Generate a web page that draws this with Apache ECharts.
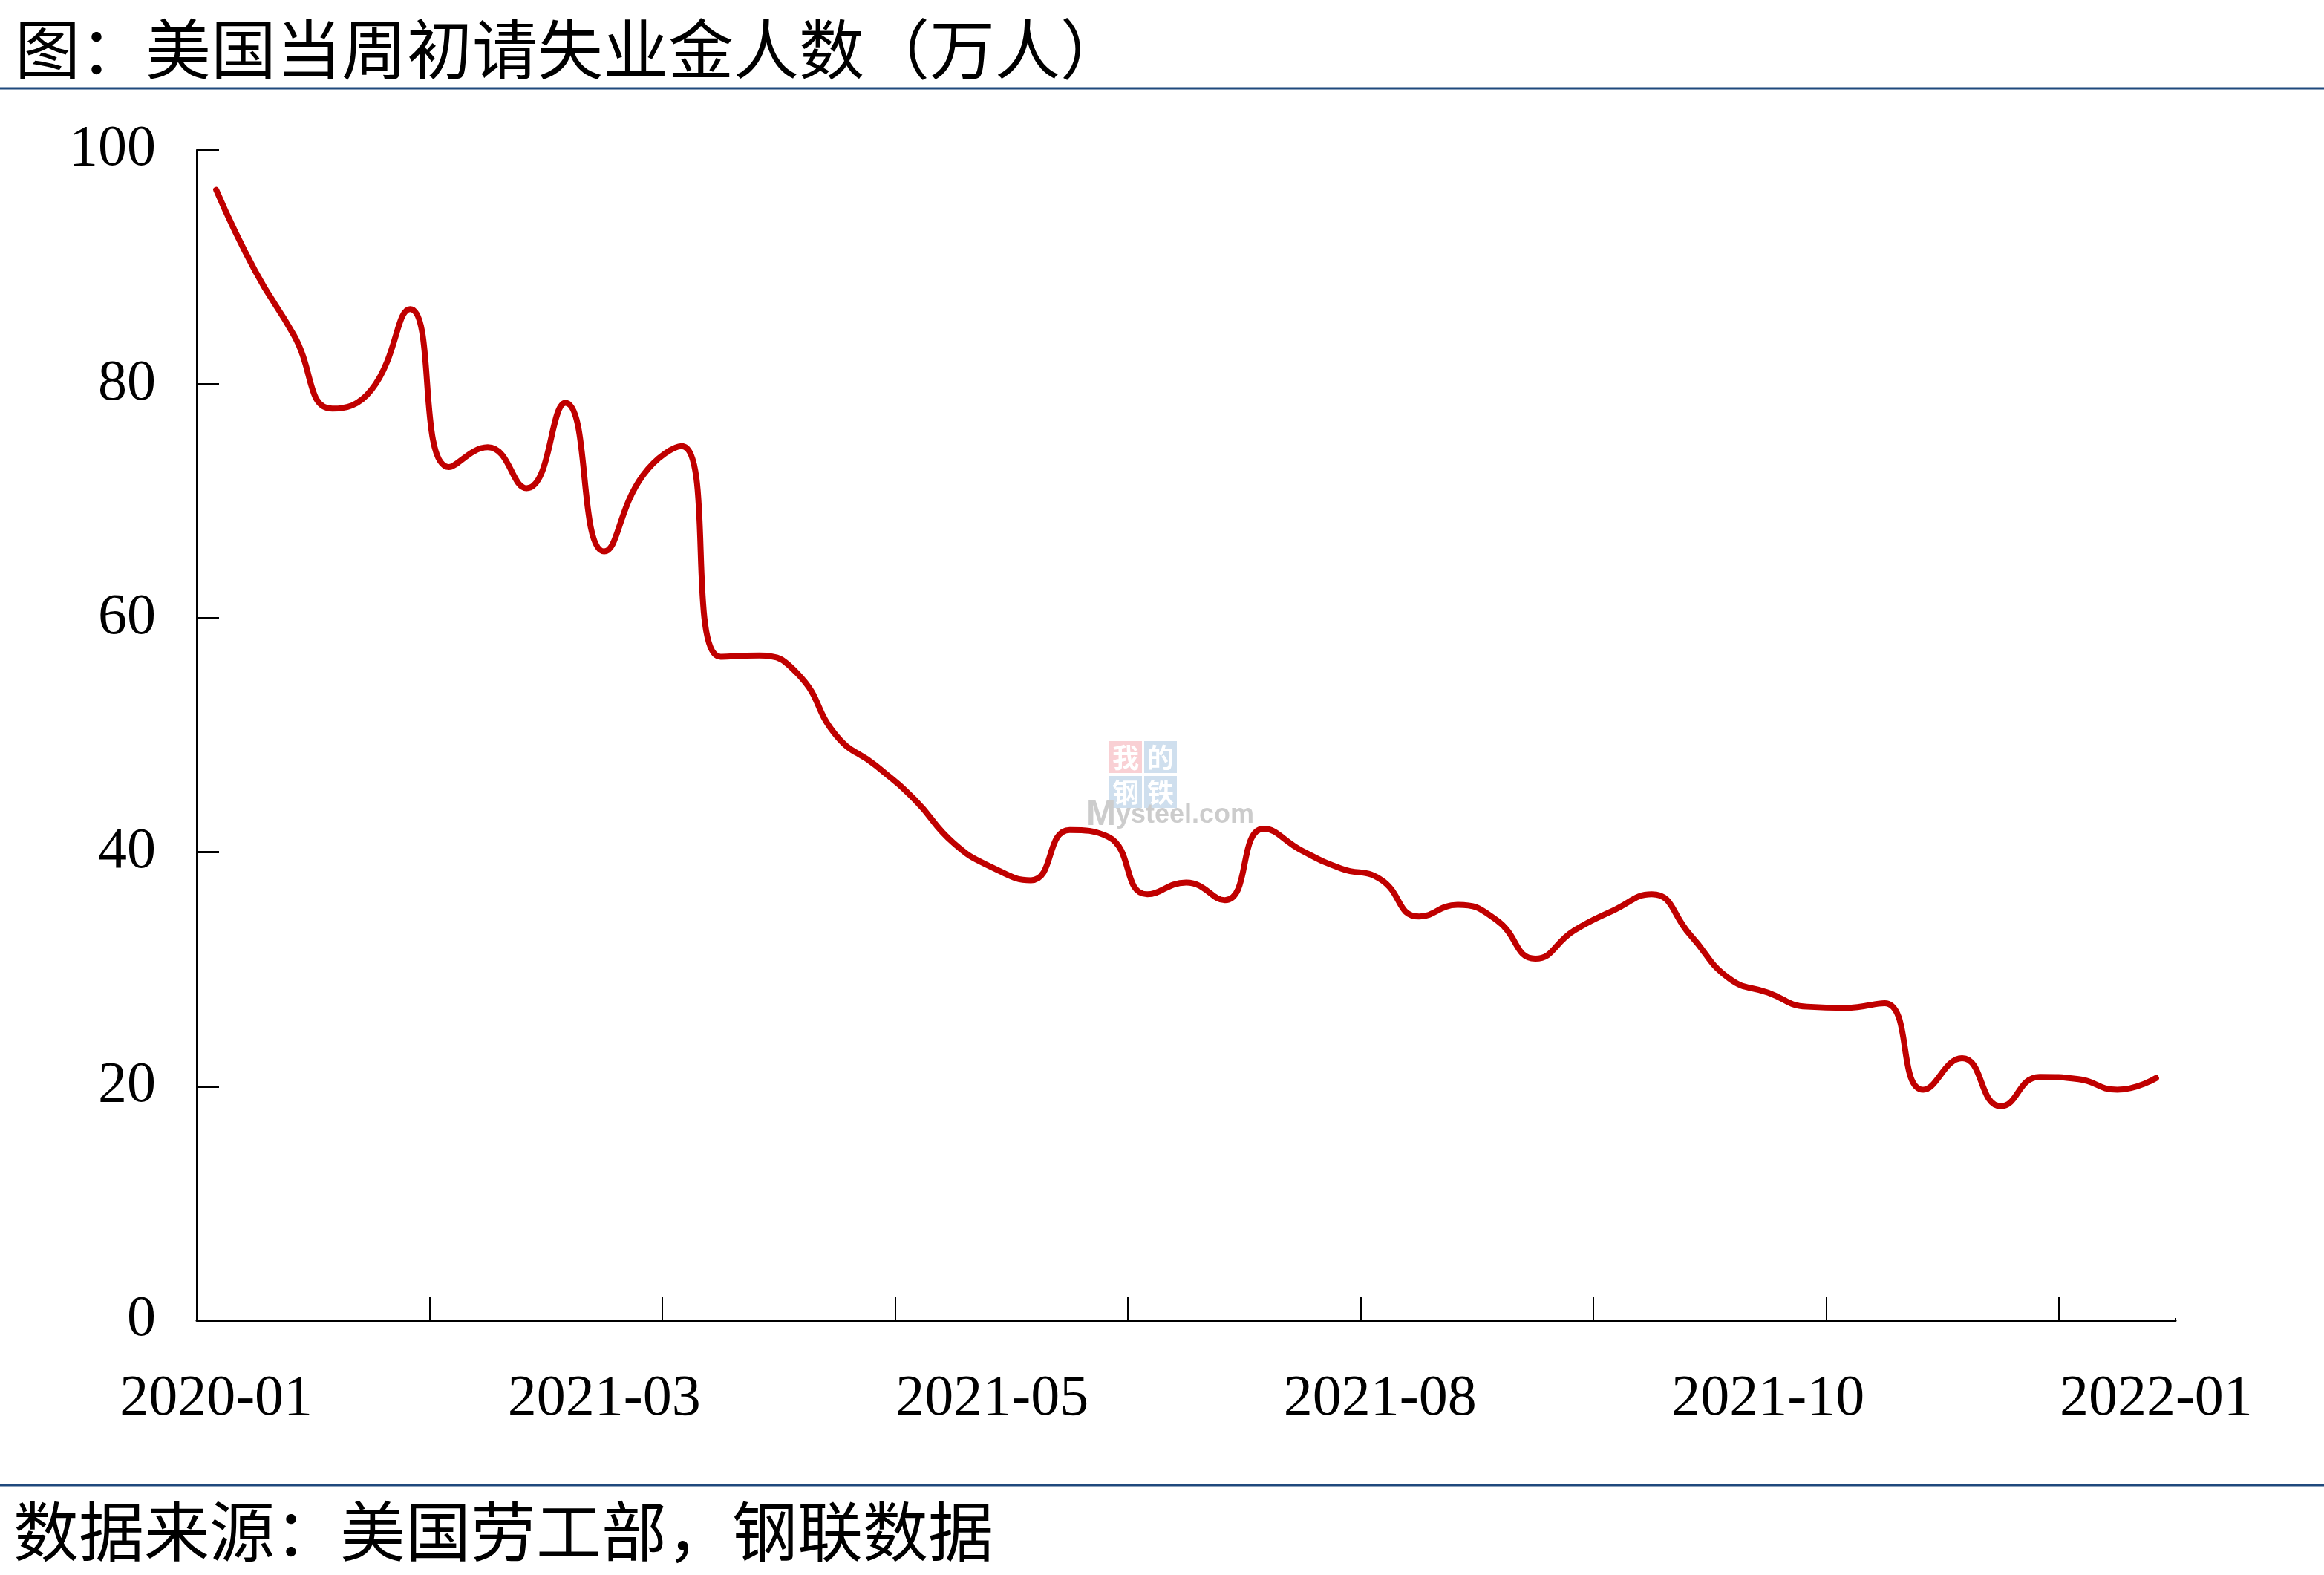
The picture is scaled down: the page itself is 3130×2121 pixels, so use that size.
<!DOCTYPE html>
<html>
<head>
<meta charset="utf-8">
<script src="https://cdn.jsdelivr.net/npm/echarts@6/dist/echarts.min.js"></script>
<style>
html,body{margin:0;padding:0;background:#fff;}
#chart{width:3130px;height:2121px;}
</style>
</head>
<body>
<div id="chart"></div>
<script>
// ---- data ----
const titleText = '图：美国当周初请失业金人数（万人）';
const sourceText = '数据来源：美国劳工部，钢联数据';
const categories = [
  '2020-01','2021-01','2021-01','2021-01','2021-02','2021-02','2021-02','2021-02','2021-03','2021-03',
  '2021-03','2021-03','2021-04','2021-04','2021-04','2021-04','2021-05','2021-05','2021-05','2021-05',
  '2021-05','2021-06','2021-06','2021-06','2021-06','2021-07','2021-07','2021-07','2021-07','2021-07',
  '2021-08','2021-08','2021-08','2021-08','2021-09','2021-09','2021-09','2021-09','2021-10','2021-10',
  '2021-10','2021-10','2021-10','2021-11','2021-11','2021-11','2021-11','2021-12','2021-12','2021-12',
  '2022-01'
];
const claims = [
  96.6, 89.7, 84.2, 77.9, 79.5, 86.4, 72.9, 74.6, 71.1, 78.4,
  65.7, 72.2, 74.7, 56.7, 56.8, 55.2, 49.9, 47.4, 44.5, 40.8,
  38.7, 37.6, 41.9, 41.3, 36.4, 37.4, 35.9, 42.0, 40.1, 38.6,
  37.7, 34.5, 35.5, 34.2, 30.9, 33.3, 35.0, 36.4, 32.9, 29.2,
  28.0, 26.8, 26.7, 27.1, 19.7, 22.4, 18.3, 20.8, 20.6, 19.7,
  20.7
];
const yMin = 0, yMax = 100, yStep = 20;

const chart = echarts.init(document.getElementById('chart'), null, {renderer: 'canvas'});
const numFont = 'Liberation Serif';
const cjkFont = 'Noto Sans CJK SC';
const blue = '#1F497D';

chart.setOption({
  animation: false,
  backgroundColor: '#ffffff',
  grid: {left: 265, right: 200, top: 202, bottom: 343, containLabel: false},
  xAxis: {
    type: 'category',
    data: categories,
    boundaryGap: true,
    axisLine: {show: true, lineStyle: {color: '#000', width: 3}},
    axisTick: {show: true, inside: true, interval: 5, length: 32, lineStyle: {color: '#000', width: 2}},
    axisLabel: {interval: 9, color: '#000', fontFamily: numFont, fontSize: 78, margin: 68},
    splitLine: {show: false}
  },
  yAxis: {
    type: 'value',
    min: yMin, max: yMax, interval: yStep,
    axisLine: {show: true, lineStyle: {color: '#000', width: 3}},
    axisTick: {show: true, inside: true, length: 30, lineStyle: {color: '#000', width: 3}},
    axisLabel: {color: '#000', fontFamily: numFont, fontSize: 78, margin: 55, padding: [8, 0, 0, 0]},
    splitLine: {show: false}
  },
  series: [{
    type: 'line',
    data: claims,
    smooth: 0.5,
    showSymbol: false,
    symbol: 'none',
    lineStyle: {color: '#C00000', width: 8, cap: 'round', join: 'round'},
    z: 5
  }],
  graphic: [
    {type: 'text', left: 20, top: 22, style: {text: titleText, font: '88px "' + cjkFont + '"', fill: '#000'}},
    {type: 'line', shape: {x1: 0, y1: 119, x2: 3130, y2: 119}, style: {stroke: blue, lineWidth: 3}},
    {type: 'line', shape: {x1: 0, y1: 2000, x2: 3130, y2: 2000}, style: {stroke: blue, lineWidth: 3}},
    {type: 'text', left: 18, top: 2018, style: {text: sourceText, font: '88px "' + cjkFont + '"', fill: '#000'}},
    // hide the extra end tick at the axis end
    {type: 'rect', shape: {x: 2925, y: 1738, width: 10, height: 37}, style: {fill: '#fff'}, z: 100},
    // watermark
    {type: 'rect', shape: {x: 1494, y: 998, width: 44, height: 43}, style: {fill: '#F9D0D4'}, z: 1},
    {type: 'rect', shape: {x: 1541, y: 998, width: 44, height: 43}, style: {fill: '#CFDFEE'}, z: 1},
    {type: 'rect', shape: {x: 1494, y: 1045, width: 44, height: 43}, style: {fill: '#CFDFEE'}, z: 1},
    {type: 'rect', shape: {x: 1541, y: 1045, width: 44, height: 43}, style: {fill: '#CFDFEE'}, z: 1},
    {type: 'text', x: 1516, y: 1020, style: {text: '我', font: 'bold 36px "' + cjkFont + '"', fill: '#fff', align: 'center', verticalAlign: 'middle'}, z: 2},
    {type: 'text', x: 1563, y: 1020, style: {text: '的', font: 'bold 36px "' + cjkFont + '"', fill: '#fff', align: 'center', verticalAlign: 'middle'}, z: 2},
    {type: 'text', x: 1516, y: 1067, style: {text: '钢', font: 'bold 36px "' + cjkFont + '"', fill: '#fff', align: 'center', verticalAlign: 'middle'}, z: 2},
    {type: 'text', x: 1563, y: 1067, style: {text: '铁', font: 'bold 36px "' + cjkFont + '"', fill: '#fff', align: 'center', verticalAlign: 'middle'}, z: 2},
    {type: 'text', x: 1463, y: 1122, z: 2, style: {
      text: '{a|M}{b|ysteel.com}', verticalAlign: 'bottom',
      rich: {
        a: {fontFamily: 'Liberation Sans', fontSize: 48, fontWeight: 'bold', fill: '#CCCCCC', color: '#CCCCCC'},
        b: {fontFamily: 'Liberation Sans', fontSize: 36, fontWeight: 'bold', fill: '#CCCCCC', color: '#CCCCCC'}
      }
    }}
  ]
});
</script>
</body>
</html>
